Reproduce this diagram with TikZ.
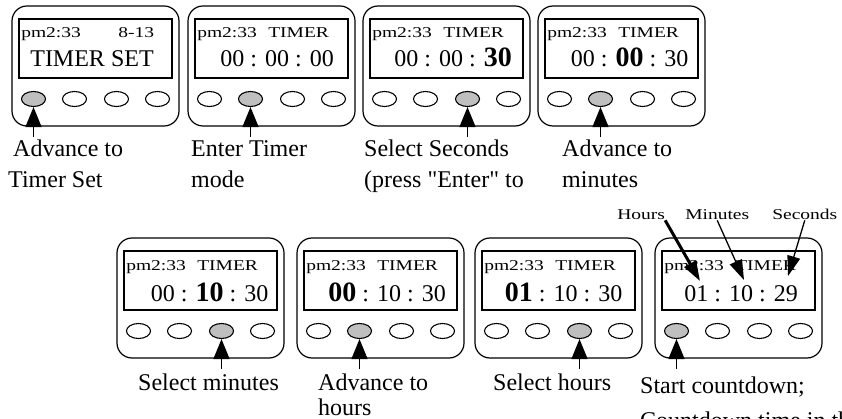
\documentclass[tikz,border=0pt]{standalone}
\usepackage{fontspec}
\setmainfont{Liberation Serif}[Ligatures=TeXOff]
\usetikzlibrary{calc,shapes.geometric,arrows.meta}

\newcommand{\bigdig}[1]{{\fontsize{28}{28}\selectfont\bfseries #1}}

\begin{document}
\begin{tikzpicture}[x=1pt,y=-1pt]

     \tikzstyle{every node}=[inner sep=0pt]
     \tikzstyle{body}=[draw,rectangle,rounded corners=15pt,minimum width=167pt,minimum height=120pt,line width=1.2pt]
     \tikzstyle{screen}=[draw,rectangle,minimum width=153pt,minimum height=59pt,line width=1.4pt]
     \tikzstyle{btn}=[draw,ellipse,minimum width=24pt,minimum height=15pt,line width=1.1pt]
     \tikzstyle{pressed}=[btn,fill=black!25]
     \tikzstyle{small}=[font=\fontsize{15}{15}\selectfont,xscale=1.3,anchor=base west]
     \tikzstyle{big}=[font=\fontsize{24}{24}\selectfont]
     \tikzstyle{caption}=[align=left,anchor=north west,font=\fontsize{24}{31}\selectfont]
     \tikzstyle{pusharrow}=[line width=1.5pt,-{Triangle[length=20pt,width=16pt]}]
     \tikzstyle{thinarrow}=[line width=1.3pt,-{Triangle[length=20pt,width=13pt]}]
     \tikzstyle{thickarrow}=[line width=3pt,-{Triangle[length=20pt,width=13pt]}]

     \useasboundingbox (0,0) rectangle (842,419);

     % first row
     \node at (95.5,66)[body](one){};
     \node at ($(one)+(0,-17.5)$)[screen](onescr){};
     \node at ($(one)+(-62,33)$)[pressed](one1){};
     \node at ($(one)+(-21,33)$)[btn](one2){};
     \node at ($(one)+(21,33)$)[btn](one3){};
     \node at ($(one)+(62,33)$)[btn](one4){};
     \node at ($(one)+(-74.5,-28)$)[small](oneclock){pm2:33};
     \node at ($(one)+(22.5,-28)$)[small](onedate){8-13};
     \node at ($(one)+(-3.5,1)$)[big,anchor=base](onetext){TIMER SET};
     \coordinate (onefoot) at ($(one1)+(0,38)$);
     \draw[pusharrow](onefoot)--(one1);
     \node at (8,140)[caption](onelabel){\hspace*{5pt}Advance to\\Timer Set};

     \node at (271.5,66)[body](two){};
     \node at ($(two)+(0,-17.5)$)[screen](twoscr){};
     \node at ($(two)+(-62,33)$)[btn](two1){};
     \node at ($(two)+(-21,33)$)[pressed](two2){};
     \node at ($(two)+(21,33)$)[btn](two3){};
     \node at ($(two)+(62,33)$)[btn](two4){};
     \node at ($(two)+(-74.5,-28)$)[small](twoclock){pm2:33};
     \node at ($(two)+(-3.5,-28)$)[small](twomode){TIMER};
     \node at ($(two)+(62.5,1)$)[big,anchor=base east](twotime){00 : 00 : 00};
     \coordinate (twofoot) at ($(two2)+(0,38)$);
     \draw[pusharrow](twofoot)--(two2);
     \node at (191,140)[caption](twolabel){Enter Timer\\mode};

     \node at (446.5,66)[body](three){};
     \node at ($(three)+(0,-17.5)$)[screen](threescr){};
     \node at ($(three)+(-62,33)$)[btn](three1){};
     \node at ($(three)+(-21,33)$)[btn](three2){};
     \node at ($(three)+(21,33)$)[pressed](three3){};
     \node at ($(three)+(62,33)$)[btn](three4){};
     \node at ($(three)+(-74.5,-28)$)[small](threeclock){pm2:33};
     \node at ($(three)+(-3.5,-28)$)[small](threemode){TIMER};
     \node at ($(three)+(65.5,1)$)[big,anchor=base east](threetime){00 : 00 : \bigdig{30}};
     \coordinate (threefoot) at ($(three3)+(0,38)$);
     \draw[pusharrow](threefoot)--(three3);
     \node at (364,140)[caption](threelabel){Select Seconds\\(press "Enter" to};

     \node at (621.5,66)[body](four){};
     \node at ($(four)+(0,-17.5)$)[screen](fourscr){};
     \node at ($(four)+(-62,33)$)[btn](four1){};
     \node at ($(four)+(-21,33)$)[pressed](four2){};
     \node at ($(four)+(21,33)$)[btn](four3){};
     \node at ($(four)+(62,33)$)[btn](four4){};
     \node at ($(four)+(-74.5,-28)$)[small](fourclock){pm2:33};
     \node at ($(four)+(-3.5,-28)$)[small](fourmode){TIMER};
     \node at ($(four)+(67,1)$)[big,anchor=base east](fourtime){00 : \bigdig{00} : 30};
     \coordinate (fourfoot) at ($(four2)+(0,38)$);
     \draw[pusharrow](fourfoot)--(four2);
     \node at (562,140)[caption](fourlabel){Advance to\\minutes};

     % second row
     \node at (200.5,298)[body](five){};
     \node at ($(five)+(0,-17.5)$)[screen](fivescr){};
     \node at ($(five)+(-62,33)$)[btn](five1){};
     \node at ($(five)+(-21,33)$)[btn](five2){};
     \node at ($(five)+(21,33)$)[pressed](five3){};
     \node at ($(five)+(62,33)$)[btn](five4){};
     \node at ($(five)+(-74.5,-28)$)[small](fiveclock){pm2:33};
     \node at ($(five)+(-3.5,-28)$)[small](fivemode){TIMER};
     \node at ($(five)+(68,3)$)[big,anchor=base east](fivetime){00 : \bigdig{10} : 30};
     \coordinate (fivefoot) at ($(five3)+(0,38)$);
     \draw[pusharrow](fivefoot)--(five3);
     \node at (138,374)[caption](fivelabel){Select minutes};

     \node at (380.5,298)[body](six){};
     \node at ($(six)+(0,-17.5)$)[screen](sixscr){};
     \node at ($(six)+(-62,33)$)[btn](six1){};
     \node at ($(six)+(-21,33)$)[pressed](six2){};
     \node at ($(six)+(21,33)$)[btn](six3){};
     \node at ($(six)+(62,33)$)[btn](six4){};
     \node at ($(six)+(-74.5,-28)$)[small](sixclock){pm2:33};
     \node at ($(six)+(-3.5,-28)$)[small](sixmode){TIMER};
     \node at ($(six)+(65.5,3)$)[big,anchor=base east](sixtime){\bigdig{00} : 10 : 30};
     \coordinate (sixfoot) at ($(six2)+(0,38)$);
     \draw[pusharrow](sixfoot)--(six2);
     \node at (318,374)[caption,font=\fontsize{24}{25}\selectfont](sixlabel){Advance to\\hours};

     \node at (558.5,298)[body](seven){};
     \node at ($(seven)+(0,-17.5)$)[screen](sevenscr){};
     \node at ($(seven)+(-62,33)$)[btn](seven1){};
     \node at ($(seven)+(-21,33)$)[btn](seven2){};
     \node at ($(seven)+(21,33)$)[pressed](seven3){};
     \node at ($(seven)+(62,33)$)[btn](seven4){};
     \node at ($(seven)+(-74.5,-28)$)[small](sevenclock){pm2:33};
     \node at ($(seven)+(-3.5,-28)$)[small](sevenmode){TIMER};
     \node at ($(seven)+(64,3)$)[big,anchor=base east](seventime){\bigdig{01} : 10 : 30};
     \coordinate (sevenfoot) at ($(seven3)+(0,38)$);
     \draw[pusharrow](sevenfoot)--(seven3);
     \node at (493,374)[caption](sevenlabel){Select hours};

     \node at (738.5,298)[body](eight){};
     \node at ($(eight)+(0,-17.5)$)[screen](eightscr){};
     \node at ($(eight)+(-62,33)$)[pressed](eight1){};
     \node at ($(eight)+(-21,33)$)[btn](eight2){};
     \node at ($(eight)+(21,33)$)[btn](eight3){};
     \node at ($(eight)+(62,33)$)[btn](eight4){};
     \node at ($(eight)+(-74.5,-28)$)[small](eightclock){pm2:33};
     \node at ($(eight)+(-3.5,-28)$)[small](eightmode){TIMER};
     \node at ($(eight)+(59.5,3)$)[big,anchor=base east](eighttime){01 : 10 : 29};
     \coordinate (eightfoot) at ($(eight1)+(0,38)$);
     \draw[pusharrow](eightfoot)--(eight1);
     \node at (640,377)[caption,font=\fontsize{24}{35}\selectfont](eightlabel){Start countdown;\\Countdown time in the};

     % hours, minutes, seconds
     \node at (617,220)[small](hrs){Hours};
     \node at (685,220)[small](mins){Minutes};
     \node at (772,220)[small](secs){Seconds};
     \coordinate (hrstip) at (700,281);
     \coordinate (minstip) at (744,280);
     \coordinate (secstip) at (788,276);
     \draw[thickarrow](hrs.south east)--(hrstip);
     \draw[thinarrow](mins.south)--(minstip);
     \draw[thinarrow](secs.south)--(secstip);

\end{tikzpicture}
\end{document}
